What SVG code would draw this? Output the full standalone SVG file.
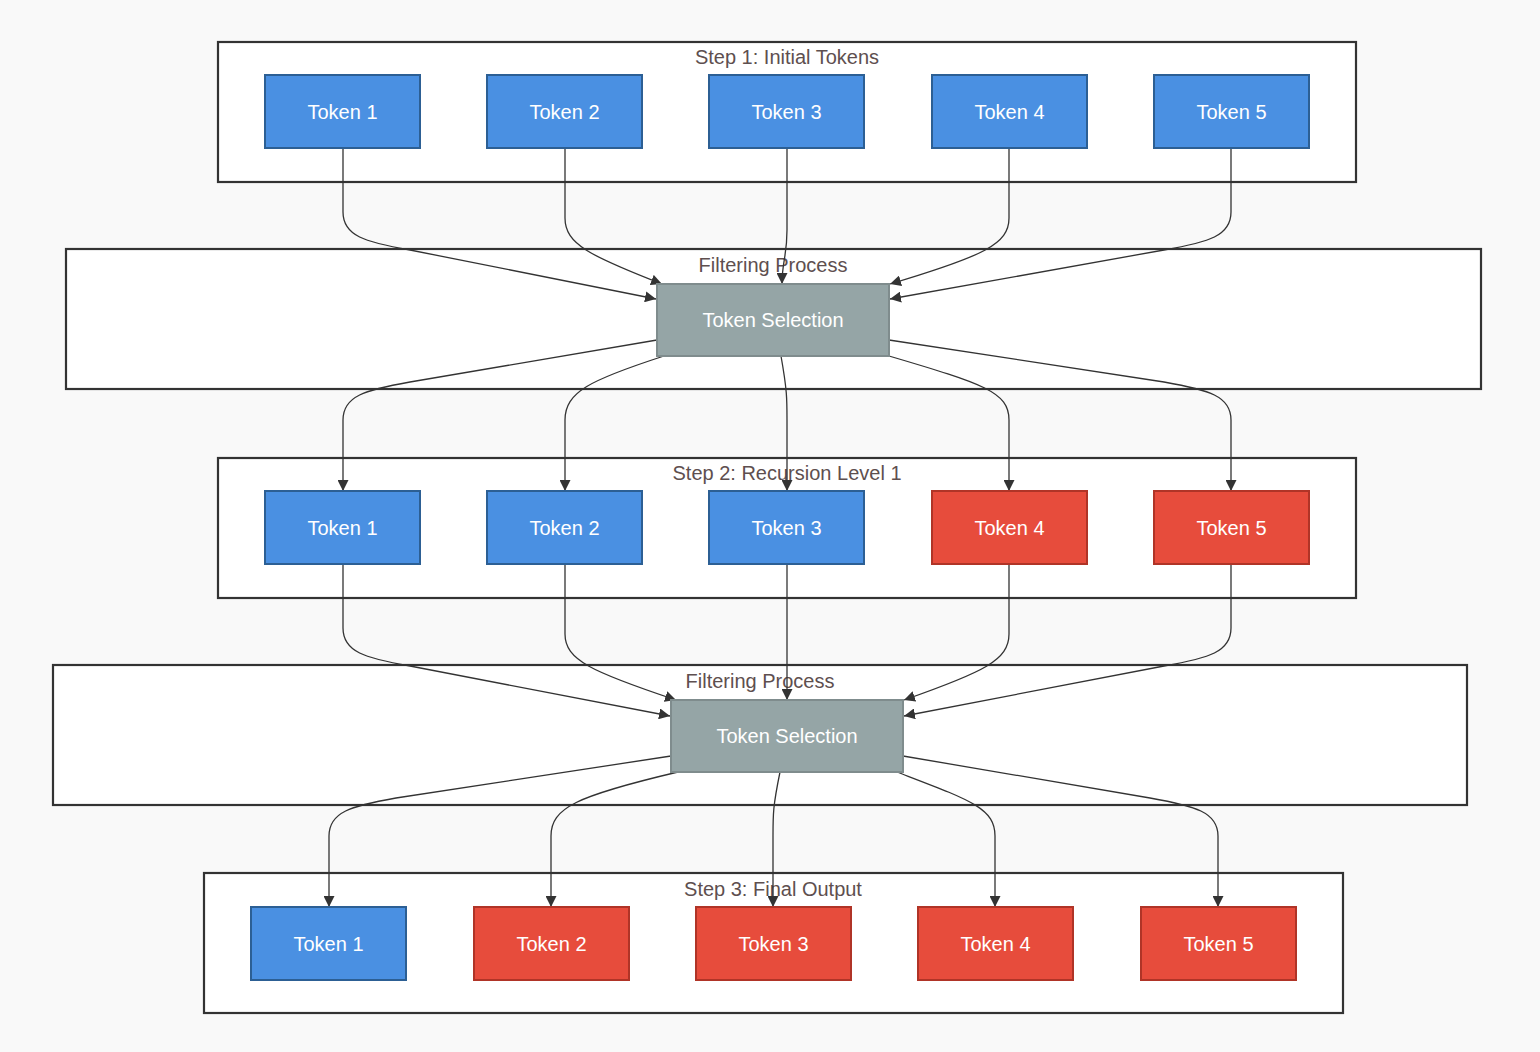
<svg xmlns="http://www.w3.org/2000/svg" width="1540" height="1052" viewBox="0 0 1540 1052">
<defs>
<style>
.cl{fill:#ffffff;stroke:#333333;stroke-width:2.2}
.ct{font-family:"Trebuchet MS","Liberation Sans",sans-serif;font-size:20px;fill:#5e4f4f;text-anchor:middle}
.b{fill:#4a90e2;stroke:#2c5f94;stroke-width:2}
.r{fill:#e74c3c;stroke:#b03427;stroke-width:2}
.g{fill:#95a5a6;stroke:#7f8c8d;stroke-width:2}
.t{font-family:"Trebuchet MS","Liberation Sans",sans-serif;font-size:20px;fill:#ffffff;text-anchor:middle;dominant-baseline:central}
.e{fill:none;stroke:#333333;stroke-width:1.3;marker-end:url(#ah)}
</style>
<marker id="ah" viewBox="0 0 10 10" refX="10" refY="5" markerWidth="11" markerHeight="11" markerUnits="userSpaceOnUse" orient="auto">
<path d="M0,0 L10,5 L0,10 z" fill="#333333"/>
</marker>
</defs>
<rect width="1540" height="1052" fill="#f9f9f9"/>

<g id="clusters">
<g id="step1"><rect class="cl" x="218" y="42" width="1138" height="140"/><text class="ct" x="787" y="64">Step 1: Initial Tokens</text></g>
<g id="filter1"><rect class="cl" x="66" y="249" width="1415" height="140"/><text class="ct" x="773" y="272">Filtering Process</text></g>
<g id="step2"><rect class="cl" x="218" y="458" width="1138" height="140"/><text class="ct" x="787" y="480">Step 2: Recursion Level 1</text></g>
<g id="filter2"><rect class="cl" x="53" y="665" width="1414" height="140"/><text class="ct" x="760" y="688">Filtering Process</text></g>
<g id="step3"><rect class="cl" x="204" y="873" width="1139" height="140"/><text class="ct" x="773" y="896">Step 3: Final Output</text></g>
</g>

<g id="connectors">
<path class="e" d="M343,148 V212 C343,236 365,242 410,250 L656,299"/>
<path class="e" d="M565,148 V218 C565,244 590,256 662,284"/>
<path class="e" d="M787,148 V230 C787,256 782,262 782,284"/>
<path class="e" d="M1009,148 V218 C1009,244 984,256 890,284"/>
<path class="e" d="M1231,148 V212 C1231,236 1209,242 1164,250 L890,299"/>

<path class="e" d="M657,340 L410,382 C365,390 343,396 343,420 V491"/>
<path class="e" d="M664,356 C590,380 565,392 565,420 V491"/>
<path class="e" d="M781,356 C787,390 787,398 787,420 V491"/>
<path class="e" d="M889,356 C984,384 1009,392 1009,420 V491"/>
<path class="e" d="M889,340 L1164,382 C1209,390 1231,396 1231,420 V491"/>

<path class="e" d="M343,564 V628 C343,652 365,658 410,666 L670,716"/>
<path class="e" d="M565,564 V634 C565,660 592,672 676,700"/>
<path class="e" d="M787,564 V700"/>
<path class="e" d="M1009,564 V634 C1009,660 984,672 904,700"/>
<path class="e" d="M1231,564 V628 C1231,652 1209,658 1164,666 L904,716"/>

<path class="e" d="M671,756 L396,798 C351,806 329,812 329,836 V907"/>
<path class="e" d="M678,772 C576,796 551,808 551,836 V907"/>
<path class="e" d="M780,772 C773,806 773,814 773,836 V907"/>
<path class="e" d="M897,772 C970,800 995,808 995,836 V907"/>
<path class="e" d="M903,756 L1150,798 C1195,806 1218,812 1218,836 V907"/>
</g>

<g id="s1t1"><rect class="b" x="265" y="75" width="155" height="73"/><text class="t" x="342.5" y="111.5">Token 1</text></g>
<g id="s1t2"><rect class="b" x="487" y="75" width="155" height="73"/><text class="t" x="564.5" y="111.5">Token 2</text></g>
<g id="s1t3"><rect class="b" x="709" y="75" width="155" height="73"/><text class="t" x="786.5" y="111.5">Token 3</text></g>
<g id="s1t4"><rect class="b" x="932" y="75" width="155" height="73"/><text class="t" x="1009.5" y="111.5">Token 4</text></g>
<g id="s1t5"><rect class="b" x="1154" y="75" width="155" height="73"/><text class="t" x="1231.5" y="111.5">Token 5</text></g>

<g id="sel1"><rect class="g" x="657" y="284" width="232" height="72"/><text class="t" x="773" y="320">Token Selection</text></g>

<g id="s2t1"><rect class="b" x="265" y="491" width="155" height="73"/><text class="t" x="342.5" y="527.5">Token 1</text></g>
<g id="s2t2"><rect class="b" x="487" y="491" width="155" height="73"/><text class="t" x="564.5" y="527.5">Token 2</text></g>
<g id="s2t3"><rect class="b" x="709" y="491" width="155" height="73"/><text class="t" x="786.5" y="527.5">Token 3</text></g>
<g id="s2t4"><rect class="r" x="932" y="491" width="155" height="73"/><text class="t" x="1009.5" y="527.5">Token 4</text></g>
<g id="s2t5"><rect class="r" x="1154" y="491" width="155" height="73"/><text class="t" x="1231.5" y="527.5">Token 5</text></g>

<g id="sel2"><rect class="g" x="671" y="700" width="232" height="72"/><text class="t" x="787" y="736">Token Selection</text></g>

<g id="s3t1"><rect class="b" x="251" y="907" width="155" height="73"/><text class="t" x="328.5" y="943.5">Token 1</text></g>
<g id="s3t2"><rect class="r" x="474" y="907" width="155" height="73"/><text class="t" x="551.5" y="943.5">Token 2</text></g>
<g id="s3t3"><rect class="r" x="696" y="907" width="155" height="73"/><text class="t" x="773.5" y="943.5">Token 3</text></g>
<g id="s3t4"><rect class="r" x="918" y="907" width="155" height="73"/><text class="t" x="995.5" y="943.5">Token 4</text></g>
<g id="s3t5"><rect class="r" x="1141" y="907" width="155" height="73"/><text class="t" x="1218.5" y="943.5">Token 5</text></g>
</svg>
